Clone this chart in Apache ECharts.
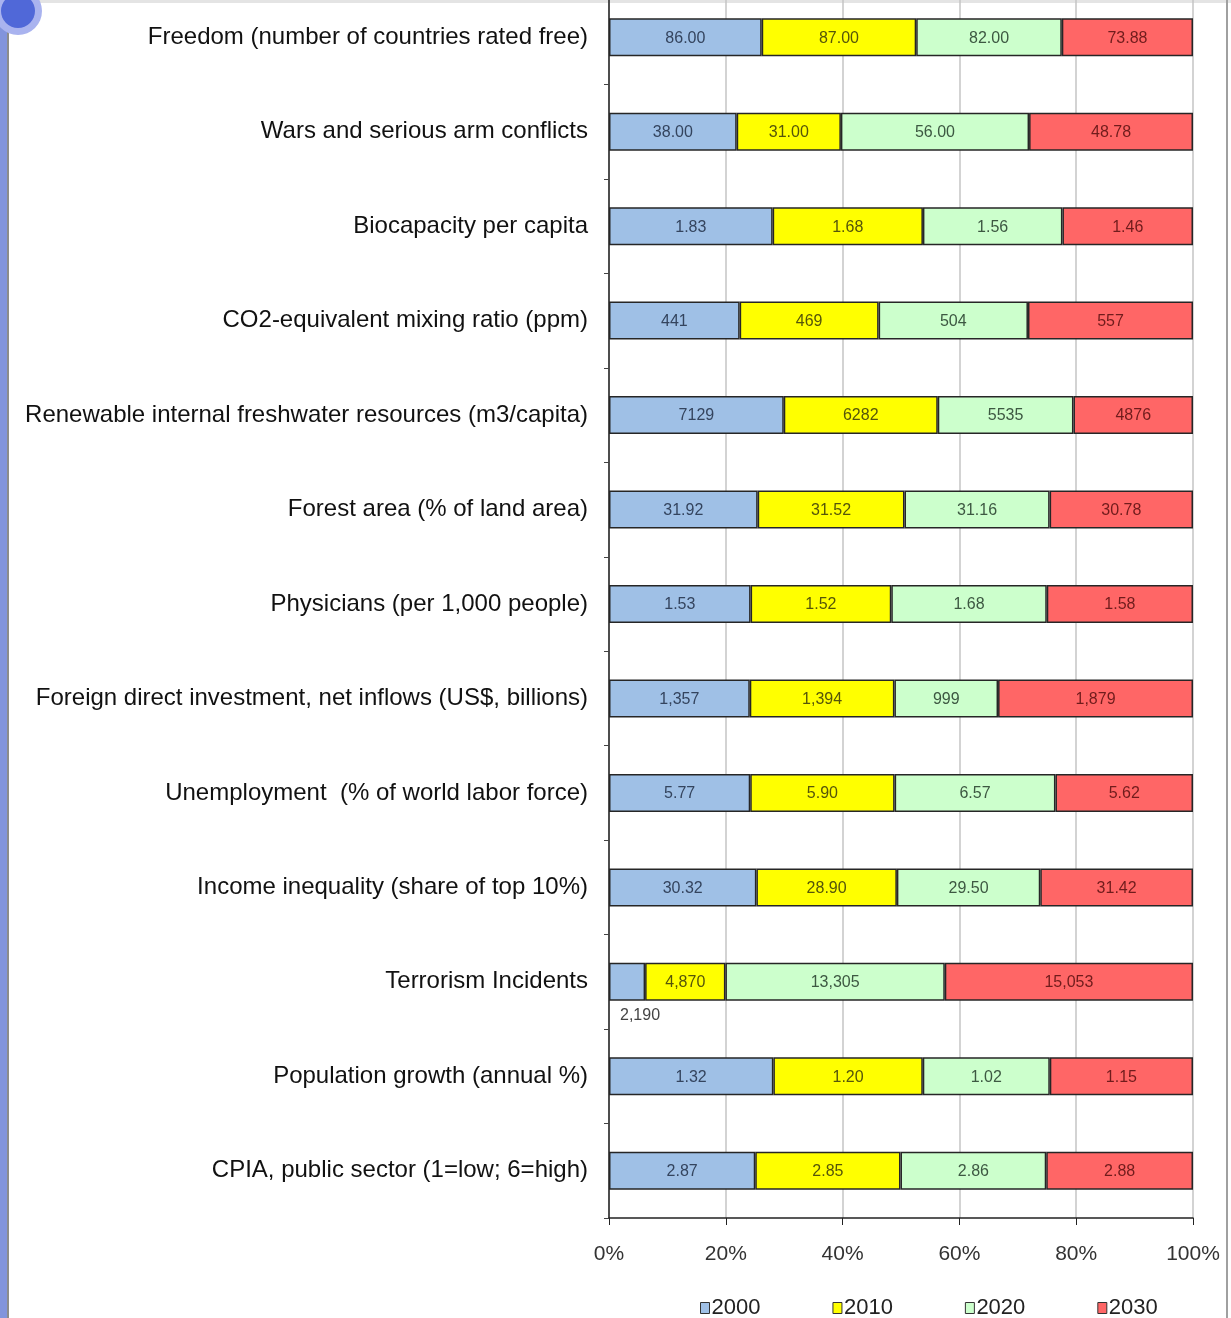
<!DOCTYPE html>
<html>
<head>
<meta charset="utf-8">
<script src="https://cdn.jsdelivr.net/npm/echarts@6/dist/echarts.min.js"></script>
<style>
  html, body { margin: 0; padding: 0; background: #fff; }
  #main { width: 1231px; height: 1318px; }
</style>
</head>
<body>
<div id="main"></div>
<script>
var myChart = echarts.init(document.getElementById('main'));

const categories = [
  'Freedom (number of countries rated free)',
  'Wars and serious arm conflicts',
  'Biocapacity per capita',
  'CO2-equivalent mixing ratio (ppm)',
  'Renewable internal freshwater resources (m3/capita)',
  'Forest area (% of land area)',
  'Physicians (per 1,000 people)',
  'Foreign direct investment, net inflows (US$, billions)',
  'Unemployment  (% of world labor force)',
  'Income inequality (share of top 10%)',
  'Terrorism Incidents',
  'Population growth (annual %)',
  'CPIA, public sector (1=low; 6=high)'
];
const years = ['2000', '2010', '2020', '2030'];

const v2000 = [86.00, 38.00, 1.83, 441, 7129, 31.92, 1.53, 1357, 5.77, 30.32, 2190, 1.32, 2.87];
const v2010 = [87.00, 31.00, 1.68, 469, 6282, 31.52, 1.52, 1394, 5.90, 28.90, 4870, 1.20, 2.85];
const v2020 = [82.00, 56.00, 1.56, 504, 5535, 31.16, 1.68, 999, 6.57, 29.50, 13305, 1.02, 2.86];
const v2030 = [73.88, 48.78, 1.46, 557, 4876, 30.78, 1.58, 1879, 5.62, 31.42, 15053, 1.15, 2.88];

// how each row prints its numbers
const decimals = [2, 2, 2, 0, 0, 2, 2, 0, 2, 2, 0, 2, 2];
const useComma = [false, false, false, false, false, false, false, true, false, false, true, false, false];

const xTicks = [0, 20, 40, 60, 80, 100];

const colors = ['#9fc0e6', '#ffff00', '#ccffcc', '#ff6666'];
const labelColors = ['#34445e', '#55550a', '#3d5842', '#701c1c'];
const FONT = "'Liberation Sans', Arial, sans-serif";

const allValues = [v2000, v2010, v2020, v2030];
const totals = categories.map(function (c, i) {
  return v2000[i] + v2010[i] + v2020[i] + v2030[i];
});

function fmt(v, i) {
  var s = v.toFixed(decimals[i]);
  if (useComma[i]) s = s.replace(/\B(?=(\d{3})+(?!\d))/g, ',');
  return s;
}

const series = years.map(function (y, k) {
  return {
    name: y,
    type: 'bar',
    stack: 'all',
    barWidth: 38,
    itemStyle: {
      color: colors[k],
      borderColor: '#262626',
      borderWidth: 1.5
    },
    label: {
      show: true,
      position: 'inside',
      offset: [0, 1],
      color: labelColors[k],
      fontFamily: FONT,
      fontSize: 16,
      formatter: function (p) {
        return fmt(allValues[k][p.dataIndex], p.dataIndex);
      }
    },
    data: allValues[k].map(function (v, i) {
      var item = { value: v / totals[i] * 100 };
      // tiny terrorism 2000 bar: label sits under the bar
      if (k === 0 && i === 10) {
        item.label = { position: [11, 45], offset: [0, 0], color: '#444' };
      }
      return item;
    })
  };
});

const option = {
  animation: false,
  backgroundColor: '#fff',
  textStyle: { fontFamily: FONT },
  grid: {
    left: 609,
    right: 38,
    top: -10,
    bottom: 100,
    outerBoundsMode: 'none',
    containLabel: false
  },
  legend: {
    data: years,
    left: 695,
    top: 1292,
    icon: 'rect',
    itemWidth: 9,
    itemHeight: 11,
    itemGap: 72,
    itemStyle: { borderColor: '#333', borderWidth: 1 },
    textStyle: { fontFamily: FONT, fontSize: 22, color: '#222', padding: [4, 0, 0, -3] }
  },
  xAxis: {
    type: 'value',
    min: xTicks[0],
    max: xTicks[xTicks.length - 1],
    interval: 20,
    axisLine: { show: true, lineStyle: { color: '#222', width: 1.5 } },
    axisTick: { show: true, length: 7, lineStyle: { color: '#222' } },
    splitLine: { show: true, lineStyle: { color: '#c4c4c4', width: 1.5 } },
    axisLabel: {
      formatter: '{value}%',
      fontFamily: FONT,
      fontSize: 21,
      color: '#333',
      margin: 26
    }
  },
  yAxis: {
    type: 'category',
    data: categories,
    inverse: true,
    axisLine: { show: true, lineStyle: { color: '#222', width: 1.5 } },
    axisTick: { show: true, length: 5, lineStyle: { color: '#444' } },
    axisLabel: {
      fontFamily: FONT,
      fontSize: 24,
      color: '#111',
      margin: 21,
      padding: [3, 0, 0, 0]
    }
  },
  graphic: [
    // slide frame bits around the chart
    { type: 'rect', left: 0, top: 0, shape: { width: 1231, height: 3 }, style: { fill: '#e4e4e4' }, silent: true },
    { type: 'rect', left: 0, top: 0, shape: { width: 7, height: 1318 }, style: { fill: '#8294dc' }, silent: true },
    { type: 'rect', left: 7, top: 0, shape: { width: 2, height: 1318 }, style: { fill: '#8c8c8c' }, silent: true },
    { type: 'rect', left: 1226, top: 0, shape: { width: 2, height: 1318 }, style: { fill: '#a0a0a0' }, silent: true },
    { type: 'circle', shape: { cx: 18, cy: 11, r: 24 }, style: { fill: '#a9b3ef' }, silent: true },
    { type: 'circle', shape: { cx: 18, cy: 11, r: 17 }, style: { fill: '#5068d8' }, silent: true }
  ],
  series: series
};

myChart.setOption(option);
</script>
</body>
</html>
